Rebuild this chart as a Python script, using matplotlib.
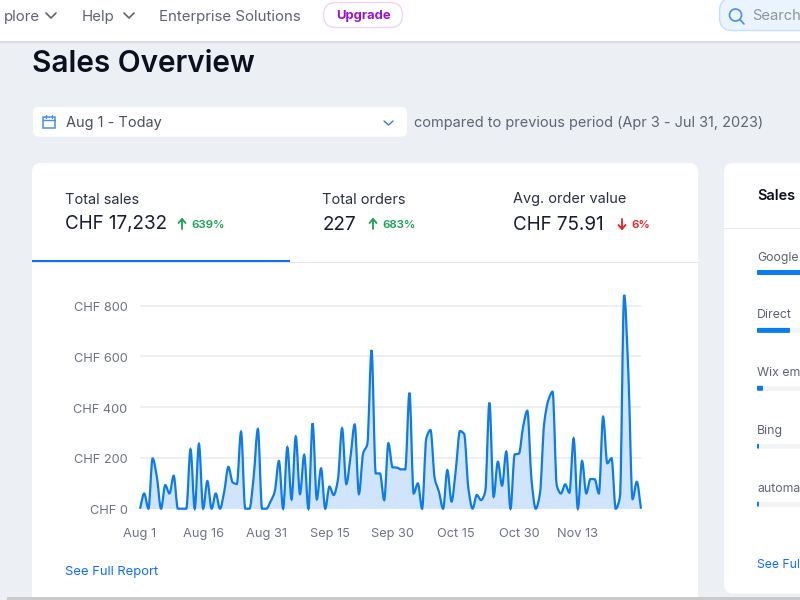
import matplotlib
matplotlib.use("Agg")
import matplotlib.pyplot as plt
import numpy as np
from matplotlib.patches import FancyBboxPatch, PathPatch, Rectangle, Circle
from matplotlib.path import Path
from matplotlib.transforms import ScaledTranslation

plt.rcParams['font.family'] = ['Inter', 'DejaVu Sans']

# daily sales in CHF
sales = [0, 60, 0, 198, 126, 0, 93, 60, 130, 0,
         0, 0, 234, 0, 255, 0, 109, 0, 60, 0,
         67, 165, 104, 97, 303, 0, 0, 126, 314, 0,
         0, 28, 67, 188, 0, 242, 37, 284, 58, 212,
         0, 336, 37, 159, 0, 87, 54, 113, 317, 97,
         205, 332, 58, 218, 255, 625, 139, 139, 34, 258,
         163, 162, 155, 155, 457, 60, 100, 0, 277, 310,
         120, 67, 0, 152, 28, 152, 306, 294, 80, 0,
         54, 34, 67, 418, 47, 185, 91, 225, 0, 214,
         217, 323, 386, 113, 0, 60, 336, 428, 461, 91,
         60, 96, 63, 277, 0, 188, 60, 117, 116, 60,
         362, 179, 199, 0, 47, 842, 533, 38, 106, 0]
tick_pos = [0, 15, 30, 45, 60, 75, 90, 104]
tick_labels = ['Aug 1', 'Aug 16', 'Aug 31', 'Sep 15', 'Sep 30', 'Oct 15', 'Oct 30', 'Nov 13']
y_ticks = [0, 200, 400, 600, 800]
y_labels = ['CHF 0', 'CHF 200', 'CHF 400', 'CHF 600', 'CHF 800']

kpi_names = ['Total sales', 'Total orders', 'Avg. order value']
kpi_values = ['CHF 17,232', '227', 'CHF 75.91']
kpi_changes = ['639%', '683%', '6%']

# the right card runs off the picture, only the visible part of each name is kept
source_names = ['Google', 'Direct', 'Wix em', 'Bing', 'automa']
source_shares = [80, 33, 6, 2, 2]

BLUE = '#0a7cf0'
DARK = '#161d2e'


def curve_path(y):
    # monotone cubic through the points, same look as the web chart
    x = np.arange(len(y), dtype=float)
    y = np.array(y, dtype=float)
    d = np.diff(y)
    t = np.zeros(len(y))
    for i in range(1, len(y) - 1):
        if d[i - 1] * d[i] > 0:
            t[i] = 2 * d[i - 1] * d[i] / (d[i - 1] + d[i])
    t[0], t[-1] = d[0], d[-1]
    verts = [(x[0], y[0])]
    codes = [Path.MOVETO]
    for i in range(len(y) - 1):
        verts += [(x[i] + 1 / 3, y[i] + t[i] / 3), (x[i + 1] - 1 / 3, y[i + 1] - t[i + 1] / 3), (x[i + 1], y[i + 1])]
        codes += [Path.CURVE4] * 3
    return verts, codes


fig = plt.figure(figsize=(8, 6), dpi=100, facecolor='#eceff4')

# page layer in pixel coordinates
bg = fig.add_axes([0, 0, 1, 1])
bg.set_xlim(0, 800)
bg.set_ylim(600, 0)
bg.axis('off')


def box(x0, y0, x1, y1, color, r=6, ec='none', lw=0, z=1):
    bg.add_patch(FancyBboxPatch((x0 + r, y0 + r), x1 - x0 - 2 * r, y1 - y0 - 2 * r,
                                boxstyle='round,pad=%f,rounding_size=%f' % (r, r),
                                fc=color, ec=ec, lw=lw, zorder=z))


def label(x, y, s, size, color=DARK, weight='normal', ha='left'):
    bg.text(x, y + 1, s, fontsize=size * 0.72, color=color, fontweight=weight, ha=ha, va='center', zorder=5)


def polyline(xs, ys, color, lw=1.2):
    bg.plot(xs, ys, color=color, lw=lw, solid_capstyle='round', zorder=5)


# top bar
for i, c in enumerate(['#d3d7df', '#dde0e7', '#e5e8ee']):
    bg.add_patch(Rectangle((0, 41 + i), 800, 1, fc=c, ec='none', zorder=1))
bg.add_patch(Rectangle((0, 0), 800, 41, fc='white', ec='none', zorder=2))
label(3.5, 15.5, 'plore', 15, '#5f6473')
polyline([46, 51, 56], [13, 18, 13], '#5f6473')
label(82, 15.5, 'Help', 15, '#5f6473')
polyline([124, 129, 134], [13, 18, 13], '#5f6473')
label(159, 15.5, 'Enterprise Solutions', 15, '#5f6473')
box(323.5, 2.5, 402.5, 27.5, 'white', r=12.5, ec='#ecd6f5', lw=1, z=3)
label(363, 14.5, 'Upgrade', 13, '#9a13d6', 'bold', 'center')
box(719.5, -2, 830, 30.5, '#eaf4fe', r=13, ec='#c5dff9', lw=1, z=3)
bg.add_patch(Circle((735.5, 15), 6, fc='none', ec='#4b8fe8', lw=1.2, zorder=5))
polyline([740, 744], [19.5, 24], '#4b8fe8')
label(752, 15, 'Search', 14.7, '#8f94a3')

label(32.5, 62.5, 'Sales Overview', 29.7, '#0b0f1e', 'semibold')

# date picker
box(33, 107, 407, 136.5, 'white', r=5)
bg.add_patch(Rectangle((43, 116.5), 12, 11, fc='none', ec='#4b8fe8', lw=1.1, zorder=5))
polyline([43, 55], [120, 120], '#4b8fe8', 1)
polyline([46, 46], [115, 118], '#4b8fe8', 1)
polyline([52, 52], [115, 118], '#4b8fe8', 1)
label(65.5, 122, 'Aug 1 - Today', 14.5, '#4b505f')
polyline([384, 388.5, 393], [121, 125, 121], '#2f7fe0', 1)
label(414.5, 122, 'compared to previous period (Apr 3 - Jul 31, 2023)', 14.5, '#5f6473')

# cards
box(32, 163, 698, 640, 'white', r=9)
box(724, 163, 840, 593.5, 'white', r=9)
bg.add_patch(Rectangle((0, 597), 800, 3, fc='#c9c9c9', ec='none', zorder=4))
bg.add_patch(Rectangle((0, 597), 7, 3, fc='#eef0f4', ec='none', zorder=4))

# kpi tabs
kpi_x = [65, 322.5, 513]
delta_x = [182, 373, 622]
for i in range(3):
    label(kpi_x[i], 198.5, kpi_names[i], 14.5, '#2b3143')
    label(kpi_x[i], 223.5, kpi_values[i], 18.8, DARK)
    up = i < 2
    col = '#18a354' if up else '#e81c23'
    polyline([delta_x[i], delta_x[i]], [219, 229], col, 1.3)
    if up:
        polyline([delta_x[i] - 3.5, delta_x[i], delta_x[i] + 3.5], [223, 219, 223], col, 1.3)
    else:
        polyline([delta_x[i] - 3.5, delta_x[i], delta_x[i] + 3.5], [225, 229, 225], col, 1.3)
    label(delta_x[i] + 9, 223.5, kpi_changes[i], 11.5, col, 'semibold')
bg.add_patch(Rectangle((32, 262), 666, 1.2, fc='#e3e6ec', ec='none', zorder=3))
bg.add_patch(Rectangle((32, 259.5), 257.5, 2.5, fc='#116dff', ec='none', zorder=4))
label(65, 570.5, 'See Full Report', 13, '#116dff')

# right card
label(757, 195.5, 'Sales', 14.5, '#0b0f1e', 'semibold')
bg.add_patch(Rectangle((724, 227.5), 76, 1.2, fc='#e3e6ec', ec='none', zorder=3))
for i, name in enumerate(source_names):
    y = 257.5 + i * 57.9
    label(757, y - 1, name, 12.3, '#5f6473')
    bg.add_patch(Rectangle((757, y + 12.5), 60, 5, fc='#f3f4f6', ec='none', zorder=3))
    box(757, y + 12.5, 757 + source_shares[i] * 1.0, y + 17.5, BLUE, r=1, z=4)
label(757, 563.5, 'See Ful', 12.2, '#116dff')

# chart, plot area placed so 0 and 800 land on the same pixels as the reference
ax = fig.add_axes([140 / 800, 1 - 508.7 / 600, 501 / 800, 228 / 600])
ax.patch.set_alpha(0)
ax.set_xlim(0, 119)
ax.set_ylim(0, 228 / (203 / 800))
verts, codes = curve_path(sales)
fill_verts = verts + [(len(sales) - 1, 0), (0, 0), (0, 0)]
fill_codes = codes + [Path.LINETO, Path.LINETO, Path.CLOSEPOLY]
ax.add_patch(PathPatch(Path(fill_verts, fill_codes), fc='#d0e5fb', ec='none', zorder=2))
ax.add_patch(PathPatch(Path(verts, codes), fc='none', ec=BLUE, lw=1.6, zorder=3, clip_on=False))
ax.set_yticks(y_ticks, y_labels)
ax.set_xticks(tick_pos, tick_labels)
ax.grid(axis='y', color='#e9ebf0', lw=1.1, zorder=1)
ax.tick_params(length=0, labelcolor='#6f7482', labelsize=12.8 * 0.72)
ax.tick_params(axis='y', pad=9)
ax.tick_params(axis='x', pad=14)
shift = ScaledTranslation(0, -1 / 100, fig.dpi_scale_trans)
for lab in ax.get_yticklabels():
    lab.set_transform(lab.get_transform() + shift)
for s in ax.spines.values():
    s.set_visible(False)

fig.savefig('out.png', dpi=100)
